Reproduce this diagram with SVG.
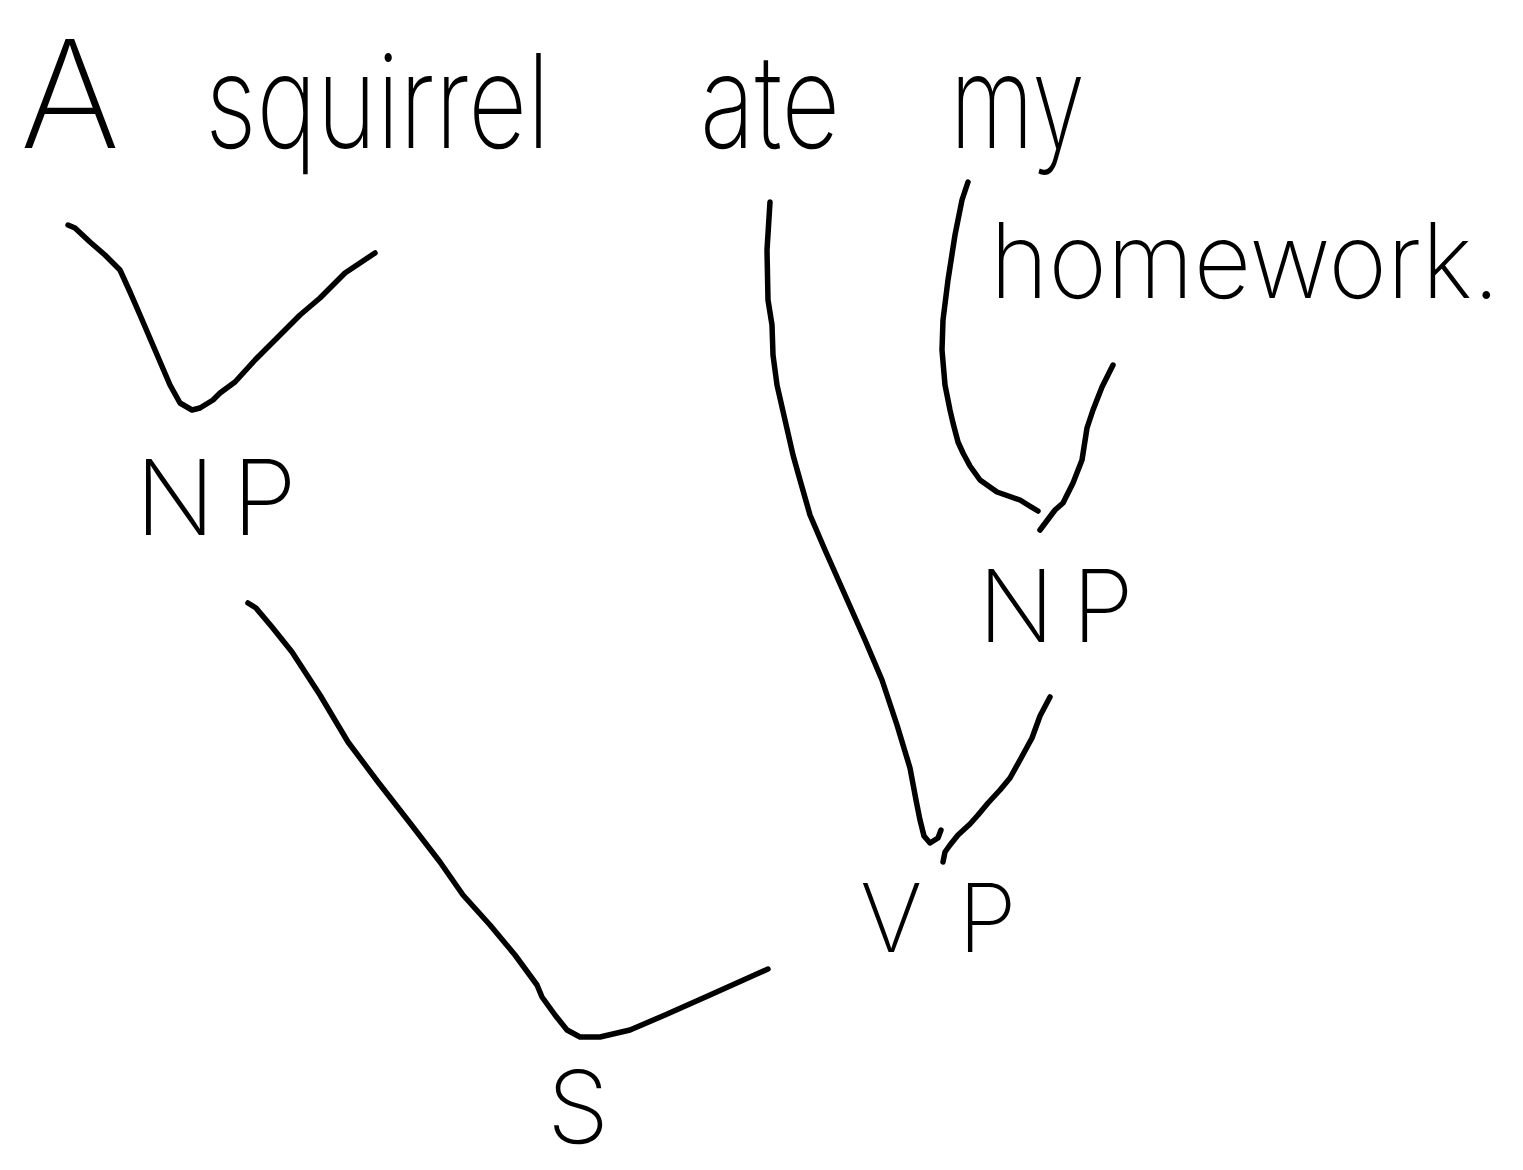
<svg xmlns="http://www.w3.org/2000/svg" width="1523" height="1170" viewBox="0 0 1523 1170">
  <style>
    .ink { fill: none; stroke: #000; stroke-width: 5.5; stroke-linecap: round; stroke-linejoin: round; }
    .word { font-family: Inter, Lato, "Open Sans", "Liberation Sans", sans-serif; font-weight: 200; fill: #000; }
    .cat { font-family: Inter, Lato, "Open Sans", "Liberation Sans", sans-serif; font-weight: 200; fill: #000; }
  </style>
  <rect width="1523" height="1170" fill="#fff"/>

  <!-- sentence words -->
  <g id="w-a-squirrel">
    <text class="word" y="148"><tspan x="20" font-size="150" textLength="100" lengthAdjust="spacingAndGlyphs">A</tspan><tspan x="205" font-size="130" textLength="345" lengthAdjust="spacingAndGlyphs">squirrel</tspan></text>
  </g>
  <g id="w-ate">
    <text class="word" x="700" y="148" font-size="130" textLength="140" lengthAdjust="spacingAndGlyphs">ate</text>
  </g>
  <g id="w-my">
    <text class="word" x="950" y="148" font-size="130" textLength="135" lengthAdjust="spacingAndGlyphs">my</text>
  </g>
  <g id="w-homework">
    <text class="word" x="990" y="298" font-size="104" textLength="510" lengthAdjust="spacingAndGlyphs">homework.</text>
  </g>

  <!-- phrase categories -->
  <g id="np-subject">
    <text class="cat" y="535" font-size="105"><tspan x="135">N</tspan><tspan x="232">P</tspan></text>
  </g>
  <g id="np-object">
    <text class="cat" y="642" font-size="100"><tspan x="978">N</tspan><tspan x="1072">P</tspan></text>
  </g>
  <g id="vp">
    <text class="cat" y="952" font-size="95"><tspan x="860">V</tspan><tspan x="958">P</tspan></text>
  </g>
  <g id="s">
    <text class="cat" x="547" y="1143" font-size="100">S</text>
  </g>

  <!-- hand-drawn branches -->
  <g id="connectors">
    <!-- A + squirrel -> NP -->
    <path class="ink" d="M68,225 L75,228 L90,242 L105,255 L120,270 L130,292 L140,315 L155,350 L170,385 L180,403 L192,410 L200,408 L213,400 L220,393 L235,382 L255,360 L275,340 L300,315 L320,298 L345,273 L375,253"/>
    <!-- NP -> S, VP -> S -->
    <path class="ink" d="M248,603 L256,608 L272,627 L292,652 L320,695 L348,742 L378,782 L410,823 L440,862 L463,895 L490,925 L515,955 L537,985 L542,997 L555,1015 L567,1030 L580,1037 L600,1037 L630,1030 L665,1015 L710,995 L768,969"/>
    <!-- ate -> VP -->
    <path class="ink" d="M770,202 L767,250 L768,300 L772,325 L773,355 L777,385 L785,420 L793,455 L800,480 L810,515 L825,550 L845,595 L865,640 L882,680 L897,725 L910,768 L916,800 L920,820 L924,836 L930,843 L938,838 L941,830"/>
    <!-- NP -> VP -->
    <path class="ink" d="M1050,697 L1040,716 L1032,738 L1020,760 L1010,778 L1000,790 L988,803 L978,815 L970,824 L958,835 L950,845 L945,852 L943,862"/>
    <!-- my -> NP -->
    <path class="ink" d="M968,182 L962,200 L955,235 L948,280 L943,320 L942,350 L945,385 L950,410 L953,423 L958,442 L963,453 L970,466 L980,480 L997,492 L1020,500 L1028,505 L1038,511"/>
    <!-- homework -> NP -->
    <path class="ink" d="M1113,365 L1102,387 L1093,410 L1087,428 L1082,460 L1073,483 L1063,503 L1055,510 L1040,530"/>
  </g>
</svg>
